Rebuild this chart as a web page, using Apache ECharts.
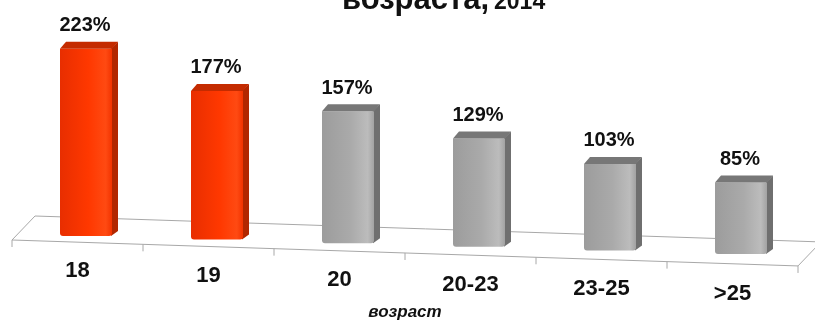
<!DOCTYPE html>
<html>
<head>
<meta charset="utf-8">
<script src="https://cdn.jsdelivr.net/npm/echarts@6/dist/echarts.min.js"></script>
<style>html,body{margin:0;padding:0;background:#fff}#c{width:815px;height:320px}</style>
</head>
<body>
<div id="c"></div>
<script>
// ---- data ----
const categories = ['18', '19', '20', '20-23', '23-25', '>25'];
const values = [223, 177, 157, 129, 103, 85];
const highlighted = [1, 1, 0, 0, 0, 0];
const axisName = 'возраст';
const titleMain = 'возраста,';
const titleYear = '2014';

// ---- presentation ----
const FONT = '"Liberation Sans", Arial, sans-serif';
const BASE_SLOPE = 3.6;      // perspective: px drop of bar base per category
const FLOOR_SLOPE = 0.033;   // perspective: floor edge slope
const BAR_SHIFT = 8.5, BAR_W = 52, SIDE_W = 6, CAP_H = 7;

const palette = {
  1: { front: ['#e82e00', '#ff3800', '#ff4a12', '#f23300'], side: '#b22700', cap: '#c42b00' },
  0: { front: ['#9c9c9c', '#aaaaaa', '#bcbcbc', '#a2a2a2'], side: '#6f6f6f', cap: '#777777' }
};

const chart = echarts.init(document.getElementById('c'), null, { renderer: 'canvas' });

function renderFloor(params, api) {
  const bw = api.size([1, 0])[0];
  const p0 = api.coord([0, 0]);
  const left = p0[0] - bw / 2;
  const right = left + categories.length * bw;
  const fy = p0[1] + 4;
  const fyR = fy + (right - left) * FLOOR_SLOPE;
  const dx = 23, dy = -24;
  const children = [{
    type: 'polygon',
    shape: { points: [[left, fy], [right, fyR], [right + dx, fyR + dy], [left + dx, fy + dy]] },
    style: { fill: '#ffffff', stroke: '#a8a8a8', lineWidth: 1 }
  }];
  for (let k = 0; k <= categories.length; k++) {
    const x = left + k * bw;
    const y = fy + k * bw * FLOOR_SLOPE;
    children.push({
      type: 'line',
      shape: { x1: x, y1: y, x2: x, y2: y + 7 },
      style: { stroke: '#a8a8a8', lineWidth: 1 }
    });
  }
  return { type: 'group', children };
}

function renderBar(params, api) {
  const i = api.value(0);
  const v = api.value(1);
  const top = api.coord([i, v]);
  const base = api.coord([i, 0]);
  const sy = i * BASE_SLOPE;
  const cx = base[0] + BAR_SHIFT;
  const x0 = cx - BAR_W / 2, x1 = cx + BAR_W / 2;
  const yb = base[1] + sy, yt = top[1] + sy;
  const pal = palette[highlighted[i]];
  const grad = new echarts.graphic.LinearGradient(0, 0, 1, 0, [
    { offset: 0, color: pal.front[0] },
    { offset: 0.55, color: pal.front[1] },
    { offset: 0.88, color: pal.front[2] },
    { offset: 1, color: pal.front[3] }
  ]);
  return {
    type: 'group',
    children: [
      {
        type: 'polygon',
        shape: { points: [[x1 - 1, yt], [x1 + SIDE_W, yt - CAP_H], [x1 + SIDE_W, yb - 5], [x1 - 1, yb]] },
        style: { fill: pal.side }
      },
      {
        type: 'rect',
        shape: { x: x0, y: yt, width: BAR_W, height: yb - yt, r: [0, 0, 3, 3] },
        style: { fill: grad }
      },
      {
        type: 'polygon',
        shape: { points: [[x0, yt], [x0 + SIDE_W, yt - CAP_H], [x1 + SIDE_W, yt - CAP_H], [x1, yt]] },
        style: { fill: pal.cap }
      },
      {
        type: 'text',
        style: {
          text: v + '%', x: cx - 1, y: yt - CAP_H - 16,
          align: 'center', verticalAlign: 'middle',
          font: 'bold 20px ' + FONT, fill: '#111111'
        }
      }
    ]
  };
}

const rich = {};
categories.forEach((c, idx) => {
  rich['c' + idx] = {
    fontFamily: FONT, fontWeight: 'bold', fontSize: 22, color: '#111111',
    padding: [idx * 4.5, 0, 0, 0]
  };
});

chart.setOption({
  animation: false,
  backgroundColor: '#ffffff',
  title: {
    left: 342, top: -18, padding: 0,
    text: '{a|' + titleMain + '} {b|' + titleYear + '}',
    textStyle: {
      rich: {
        a: { fontFamily: FONT, fontWeight: 'bold', fontSize: 31, color: '#111111', lineHeight: 34, verticalAlign: 'bottom' },
        b: { fontFamily: FONT, fontWeight: 'bold', fontSize: 23, color: '#111111', lineHeight: 34, verticalAlign: 'bottom', padding: [0, 0, 2, 0] }
      }
    }
  },
  grid: { left: 12, right: 17, top: 26, bottom: 84, outerBoundsMode: 'none', containLabel: false },
  xAxis: {
    type: 'category',
    data: categories,
    axisLine: { show: false },
    axisTick: { show: false },
    splitLine: { show: false },
    axisLabel: {
      interval: 0, margin: 24,
      formatter: (val, idx) => '{c' + idx + '|' + val + '}',
      rich
    },
    name: axisName,
    nameLocation: 'middle',
    nameGap: 68,
    nameMoveOverlap: false,
    nameTextStyle: { fontFamily: FONT, fontWeight: 'bold', fontStyle: 'italic', fontSize: 17, color: '#111111' }
  },
  yAxis: {
    type: 'value', min: 0, max: 250, show: false,
    splitLine: { show: false }
  },
  series: [
    {
      type: 'custom', silent: true, clip: false, z: 1,
      renderItem: renderFloor,
      data: [[0, 0]],
      encode: { x: 0, y: 1 }
    },
    {
      type: 'custom', silent: true, clip: false, z: 2,
      renderItem: renderBar,
      data: values.map((v, i) => [i, v]),
      encode: { x: 0, y: 1 }
    }
  ]
});
</script>
</body>
</html>
